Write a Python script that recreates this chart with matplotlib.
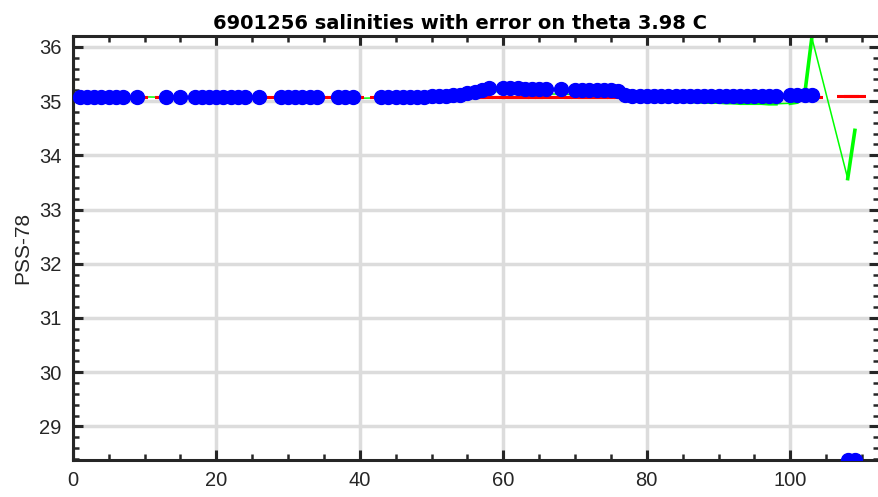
import numpy as np
import pandas as pd
import matplotlib
matplotlib.use("Agg")
import matplotlib.pyplot as plt
from matplotlib.ticker import MultipleLocator

# ── Data ────────────────────────────────────────────────────
FLOAT_ID = "6901256"
THETA = 3.98

profiles = ([1, 2, 3, 4, 5, 6, 7, 9, 13, 15]
            + list(range(17, 25)) + [26]
            + list(range(29, 35)) + [37, 38, 39]
            + list(range(43, 59)) + list(range(60, 67)) + [68]
            + list(range(70, 99)) + [100, 101, 102, 103, 108, 109])

# original salinity on theta level (blue)
obs_sal = ([35.07] * 7 + [35.07, 35.07, 35.07]
           + [35.07] * 8 + [35.07]
           + [35.07] * 6 + [35.07] * 3
           + [35.08, 35.08, 35.08, 35.08, 35.08, 35.08, 35.08, 35.085,
              35.09, 35.10, 35.11, 35.12, 35.14, 35.17, 35.20, 35.25]
           + [35.24, 35.24, 35.24, 35.23, 35.23, 35.22, 35.22] + [35.23]
           + [35.21, 35.21, 35.21, 35.20, 35.20, 35.20, 35.19]
           + [35.11, 35.10, 35.10, 35.10, 35.10, 35.10, 35.10, 35.10,
              35.10, 35.10, 35.10, 35.10, 35.10, 35.10, 35.10, 35.10,
              35.10, 35.10, 35.10, 35.10, 35.10, 35.10]
           + [35.11, 35.11, 35.11, 35.11, 28.38, 28.38])

# calibrated salinity (green)
cal_sal = ([35.08] * 7 + [35.08, 35.07, 35.07]
           + [35.07] * 8 + [35.07]
           + [35.06] * 6 + [35.06, 35.05, 35.05]
           + [35.06, 35.06, 35.06, 35.06, 35.06, 35.06, 35.07, 35.07,
              35.08, 35.08, 35.09, 35.10, 35.11, 35.13, 35.15, 35.18]
           + [35.17, 35.17, 35.16, 35.16, 35.15, 35.14, 35.13] + [35.13]
           + [35.12, 35.12, 35.12, 35.11, 35.11, 35.11, 35.10]
           + [35.03, 35.03, 35.02, 35.02, 35.01, 35.01, 35.00, 35.00,
              35.00, 34.99, 34.99, 34.98, 34.98, 34.98, 34.97, 34.97,
              34.96, 34.96, 34.96, 34.96, 34.95, 34.95]
           + [34.96, 34.98, 35.12, 36.17, 33.57, 34.46])

# mapped salinity (red) and its error
map_sal = ([35.07] * 7 + [35.07] * 3
           + [35.07] * 8 + [35.07]
           + [35.07] * 6 + [35.07] * 3
           + [35.07] * 12 + [35.065] * 4
           + [35.065] * 7 + [35.065]
           + [35.065] * 7
           + [35.07] * 22
           + [35.07] * 4 + [35.08, 35.08])
map_err = [0.01] * len(profiles)

# ── Plot ────────────────────────────────────────────────────
plt.rcParams['font.family'] = ['Liberation Sans', 'DejaVu Sans']

fig = plt.figure(figsize=(8.79, 4.97), dpi=100)
ax = fig.add_axes([0.0828, 0.0745, 0.9167, 0.8530])

full = pd.RangeIndex(1, 110)
cal_full = pd.Series(cal_sal, index=profiles).reindex(full)
map_full = pd.Series(map_sal, index=profiles).reindex(full)

# green: thin line through all profiles, thick where profiles are consecutive
ax.plot(profiles, cal_sal, color=(0, 1, 0), lw=1.1, zorder=2)
ax.plot(full, cal_full.values, color=(0, 1, 0), lw=2.6, zorder=2)

# red: mapped salinity, broken at missing profiles, with error bars
ax.plot(full, map_full.values, color=(1, 0, 0), lw=1.8, zorder=3)
ax.errorbar(profiles, map_sal, yerr=map_err, fmt='none', ecolor=(1, 0, 0),
            capsize=8, capthick=1.5, elinewidth=1.5, zorder=3)

# blue: original salinity
ax.plot(profiles, obs_sal, 'o', color=(0, 0, 1), ms=10, mec=(0, 0, 1),
        zorder=4)

ax.set_xlim(0, 112.3)
ax.set_ylim(28.38, 36.2)
ax.xaxis.set_major_locator(MultipleLocator(20))
ax.xaxis.set_minor_locator(MultipleLocator(5))
ax.yaxis.set_major_locator(MultipleLocator(1))
ax.yaxis.set_minor_locator(MultipleLocator(0.2))

ax.grid(True, which='major', color='#dcdcdc', lw=2.5)
ax.set_axisbelow(True)

spine_col = '#262626'
for side in ['left', 'bottom', 'top']:
    ax.spines[side].set_linewidth(2.2)
    ax.spines[side].set_color(spine_col)
ax.spines['right'].set_visible(False)

ax.tick_params(which='both', direction='in', top=True, right=True,
               color=spine_col, labelsize=14.5, labelcolor='#262626')
ax.tick_params(which='major', length=7, width=2.2, pad=8)
ax.tick_params(which='minor', length=4, width=1.8)

ax.set_ylabel('PSS-78', fontsize=15, color='#262626', labelpad=5)
ax.set_title(f'{FLOAT_ID} salinities with error on theta {THETA:.2f} C',
             fontsize=14, fontweight='bold', family='DejaVu Sans', pad=5,
             x=0.481)

fig.savefig('out.png', dpi=100)
